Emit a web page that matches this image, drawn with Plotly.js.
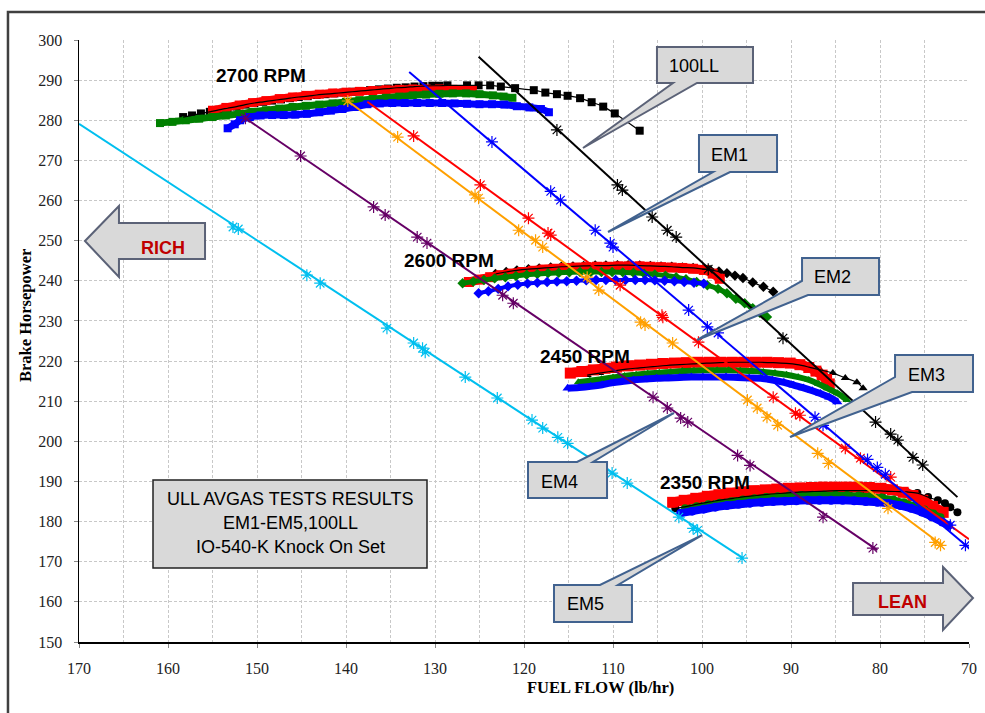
<!DOCTYPE html>
<html>
<head>
<meta charset="utf-8">
<script src="https://cdn.plot.ly/plotly-3.0.1.min.js"></script>
<style>html,body{margin:0;padding:0;background:#fff;}#chart{width:985px;height:713px;}</style>
</head>
<body>
<div id="chart"></div>
<script>
// ---------------- DATA ----------------
// Power curves (fuel flow lb/hr, brake horsepower)
// 2700 RPM (squares)
const ff2700_LL = [158.3,157.3,156.3,155.3,154.3,153.3,152.3,151.3,150.3,149.3,148.3,147.3,146.3,145.3,144.3,143.3,142.3,141.3,140.3,139.3,138.3,137.3,136.3,135.3,134.3,133.3,132.3,131.3,130.3,129.5,128.6,126.4,125.1,123.8,122.6,121.0,118.9,117.6,116.3,115.1,113.7,112.4,111.1,109.8,107.0];
const hp2700_LL = [280.8,281.2,281.7,282.1,282.6,283.0,283.4,283.9,284.3,284.6,284.9,285.2,285.5,285.8,286.0,286.3,286.5,286.7,286.9,287.1,287.3,287.5,287.7,287.9,288.1,288.2,288.4,288.5,288.6,288.6,288.7,288.7,288.7,288.7,288.4,288.0,287.5,286.9,286.5,286.1,285.5,284.5,283.4,281.7,277.4];
const ff2700_R = [155.0,153.5,152,150.5,149,147.5,146,144.5,143,141.5,140,138.5,137,135.5,134,132.5,131,129.5,128,126.5,125.8];
const hp2700_R = [282.5,283.2,283.8,284.4,284.9,285.4,285.8,286.2,286.5,286.8,287.0,287.2,287.4,287.6,287.7,287.8,287.8,287.8,287.7,287.6,287.5];
const ff2700_G = [160.9,159.5,158,156.5,155,153.5,152,150.5,149,147.5,146,144.5,143,141.5,140,138.5,137,135.5,134,132.5,131,129.5,128,126.5,125,123.5,122.3,121.3];
const hp2700_G = [279.3,279.6,280.0,280.4,280.8,281.2,281.6,282.1,282.5,282.9,283.3,283.6,283.9,284.2,284.6,285.0,285.3,285.6,285.9,286.2,286.4,286.6,286.7,286.7,286.5,286.2,285.9,285.6];
const ff2700_B = [153.3,152.5,151.9,150.8,149.6,148.3,147,145.7,144.4,143,141.7,140.4,139,137.6,136.2,134.8,133.4,132,130.6,129.2,127.8,126.4,125,123.6,122.2,120.8,119.4,118.1,117.2];
const hp2700_B = [278.0,279.0,280.0,280.8,281.2,281.3,281.3,281.4,281.6,282.0,282.4,282.8,283.3,284.0,284.2,284.3,284.3,284.3,284.3,284.3,284.2,284.1,284.0,284.0,283.9,283.5,283.2,282.8,282.0];
// 2600 RPM (diamonds)
const ff2600_LL = [123.2,122,120.8,119.5,118.3,117,115.8,114.5,113.3,112,110.8,109.5,108.3,107,105.8,104.6,103.4,102.2,101,99.9,99.1,98.1,97.2,96.3,95.4,94.3,93.1,92.0];
const hp2600_LL = [241.7,242.2,242.6,242.9,243.1,243.3,243.5,243.6,243.7,243.8,243.8,243.9,243.9,243.8,243.7,243.6,243.5,243.3,243.2,242.9,242.7,242.3,241.9,241.3,240.7,239.6,238.5,237.3];
const ff2600_R = [126.2,125,123.8,122.6,121.4,120.2,119,117.8,116.6,115.4,114.2,113,111.8,110.6,109.4,108.2,107,105.8,104.6,103.4,102.2,101,99.8,98.8,98.0];
const hp2600_R = [239.7,240.3,240.9,241.4,241.8,242.2,242.5,242.8,243.0,243.2,243.3,243.4,243.5,243.5,243.6,243.6,243.6,243.5,243.4,243.3,243.2,243.0,242.7,241.8,240.5];
const ff2600_G = [126.9,125.7,124.5,123.3,122.1,120.9,119.7,118.5,117.3,116.1,114.9,113.7,112.5,111.3,110.1,108.9,107.7,106.5,105.3,104.1,102.9,101.8,100.6,99.4,98.2,97.2,96.2,95.2,94.3,93.5,92.7];
const hp2600_G = [239.4,239.8,240.2,240.6,240.9,241.2,241.5,241.7,241.9,242.0,242.1,242.2,242.2,242.2,242.2,242.1,242.0,241.8,241.6,241.3,240.9,240.4,239.7,238.9,238.0,236.9,235.5,234.4,233.2,232.0,231.0];
const ff2600_B = [125.1,124.0,122.9,121.8,120.7,119.6,118.5,117.4,116.3,115.2,114.1,113.0,111.9,110.8,109.7,108.6,107.5,106.4,105.3,104.2,103.1,102.0,100.9,99.8];
const hp2600_B = [236.9,237.4,238.0,238.6,239.0,239.3,239.5,239.7,239.8,239.9,240.0,240.1,240.2,240.2,240.2,240.2,240.2,240.2,240.1,240.0,239.9,239.7,239.5,239.3];
// 2450 RPM (triangles)
const ff2450_LL = [112.9,111.5,110,108.5,107,105.5,104,102.5,101,99.5,98,96.5,95,93.5,92,90.5,89.3,88.0,86.7,85.3,83.9,82.6,81.9];
const hp2450_LL = [216.5,217.0,217.5,218.0,218.3,218.6,218.9,219.1,219.3,219.5,219.6,219.7,219.7,219.7,219.6,219.4,219.1,218.5,217.8,217.0,215.8,214.7,213.2];
const ff2450_R = [114.8,113.5,112.2,110.9,109.6,108.3,107,105.7,104.4,103.1,101.8,100.5,99.2,97.9,96.6,95.3,94,92.7,91.4,90.1,89.0,88.0,87.2,86.5,86.0,85.7];
const hp2450_R = [217.0,217.4,217.8,218.2,218.5,218.8,219.0,219.2,219.4,219.5,219.6,219.7,219.7,219.7,219.7,219.7,219.7,219.7,219.6,219.5,219.1,218.4,217.5,216.5,215.4,214.3];
const ff2450_G = [113.9,112.6,111.3,110,108.7,107.4,106.1,104.8,103.5,102.2,100.9,99.6,98.3,97,95.7,94.4,93.1,91.8,90.5,89.2,88.0,86.9,85.9,84.8,83.7];
const hp2450_G = [214.7,215.1,215.5,215.9,216.3,216.6,216.9,217.1,217.3,217.5,217.6,217.7,217.7,217.7,217.6,217.5,217.3,217.0,216.6,216.0,215.3,214.3,213.2,212.0,210.3];
const ff2450_B = [115.1,113.8,112.5,111.2,110.3,109,107.7,106.4,105.1,103.8,102.5,101.2,99.9,98.6,97.3,96,94.7,93.4,92.1,90.8,89.7,88.6,87.6,86.7,85.7,84.8];
const hp2450_B = [213.2,213.4,213.7,214.1,214.5,214.9,215.3,215.5,215.7,215.8,215.9,216.0,216.0,216.0,216.0,215.9,215.8,215.7,215.3,214.7,214.0,213.3,212.6,211.9,211.0,209.8];
// 2350 RPM (circles)
const ff2350_LL = [103.0,101.7,100.4,99.1,97.8,96.5,95.2,93.9,92.6,91.3,90.0,88.7,87.4,86.1,84.8,83.5,82.2,80.9,79.6,78.3,77.0,75.8,74.6,73.5,72.7,72.1,71.3];
const hp2350_LL = [183.3,183.8,184.4,184.9,185.4,185.8,186.2,186.5,186.8,187.0,187.2,187.4,187.5,187.6,187.7,187.7,187.7,187.7,187.6,187.5,187.4,187.1,186.1,185.3,184.6,183.6,182.3];
const ff2350_R = [103.3,102,100.7,99.4,98.1,96.8,95.5,94.2,92.9,91.6,90.3,89.0,87.7,86.4,85.1,83.8,82.5,81.2,79.9,78.6,77.4,76.3,75.2,74.1,72.9];
const hp2350_R = [184.8,185.3,185.8,186.3,186.7,187.1,187.4,187.7,187.9,188.1,188.3,188.4,188.5,188.6,188.6,188.6,188.6,188.5,188.3,187.9,187.3,186.5,185.3,183.8,182.3];
const ff2350_G = [101.9,100.6,99.3,98.0,96.7,95.4,94.1,92.8,91.5,90.2,88.9,87.6,86.3,85.0,83.7,82.4,81.1,79.8,78.5,77.3,76.1,75.0,74.0,73.2];
const hp2350_G = [183.3,183.8,184.3,184.7,185.1,185.5,185.8,186.1,186.3,186.5,186.6,186.7,186.7,186.7,186.6,186.5,186.3,186.0,185.5,184.8,184.0,183.0,182.0,181.1];
const ff2350_B = [102.4,101.1,99.8,98.5,97.2,95.9,94.6,93.3,92.0,90.7,89.4,88.1,86.8,85.5,84.2,82.9,81.6,80.3,79.0,77.7,76.5,75.3,74.2,73.0,72.3];
const hp2350_B = [182.1,182.6,183.1,183.6,184.0,184.3,184.6,184.8,185.0,185.1,185.2,185.3,185.3,185.3,185.3,185.2,185.0,184.8,184.5,184.0,183.3,182.4,181.2,179.9,179.0];

// Knock onset points and trend lines per fuel
const knockFF_LL  = [116.3,109.5,108.95,105.6,103.9,102.9,99.3,90.9,80.5,78.8,78.0,76.3,75.2];
const knockHP_LL  = [277.6,263.9,262.6,255.9,252.6,250.9,242.9,225.7,204.8,201.8,200.3,196.0,194.1];
const trendFF_LL  = [125.1,71.3];  const trendHP_LL  = [295.8,186.1];
const knockFF_EM1 = [123.6,117.0,115.9,112.0,110.3,110.0,101.5,99.4,98.2,87.3,86.4,81.4,80.3,79.4,72.1,70.4];
const knockHP_EM1 = [274.6,262.3,260.1,252.6,249.4,248.4,232.7,228.5,227.0,206.0,204.0,195.5,193.5,191.8,179.1,174.1];
const trendFF_EM1 = [132.9,70.0]; const trendHP_EM1 = [292.0,173.4];
const knockFF_EM2 = [132.4,124.9,119.5,117.3,117.0,109.2,104.5,104.4,100.4,92.0,89.5,89.0,83.9,82.2,78.8];
const knockHP_EM2 = [276.1,263.9,255.6,251.9,251.4,238.9,231.4,230.9,224.7,211.0,207.0,206.5,198.3,195.8,191.1];
const trendFF_EM2 = [137.6,70.0]; const trendHP_EM2 = [284.6,175.6];
const knockFF_EM3 = [139.8,134.2,125.5,125.1,120.6,118.7,117.9,112.9,111.6,106.9,106.4,103.3,94.9,93.8,92.7,91.5,87.0,85.8,79.1,73.8,73.2];
const knockHP_EM3 = [284.8,275.8,261.4,260.6,252.6,250.1,248.4,240.9,237.7,229.7,229.0,224.5,210.3,208.3,206.0,204.0,197.0,194.5,183.3,174.8,174.1];
const trendFF_EM3 = [139.8,73.0]; const trendHP_EM3 = [284.8,174.1];
const knockFF_EM4 = [151.3,145.1,136.9,135.6,132.0,130.9,122.4,121.2,105.5,103.9,102.4,101.6,96.0,94.6,86.4,80.8];
const knockHP_EM4 = [280.5,271.1,258.4,256.4,250.9,249.4,236.4,234.4,211.0,208.3,205.8,204.8,196.5,194.0,181.1,173.4];
const trendFF_EM4 = [151.3,80.3]; const trendHP_EM4 = [280.5,172.9];
const knockFF_EM5 = [152.7,152.1,144.4,142.9,135.4,132.4,131.4,131.1,126.6,123.0,119.1,117.9,116.2,115.1,110.1,108.4,102.6,101.0,100.5,95.5];
const knockHP_EM5 = [253.4,252.9,241.4,239.4,228.2,224.5,223.2,222.2,216.0,210.8,205.3,203.3,201.0,199.5,192.1,189.6,181.1,178.3,177.8,170.9];
const trendFF_EM5 = [170.0,95.4]; const trendHP_EM5 = [279.1,170.9];

const xTicks = [170,160,150,140,130,120,110,100,90,80,70];
const yTicks = [150,160,170,180,190,200,210,220,230,240,250,260,270,280,290,300];

// ---------------- BUILD ----------------
const traces = [];
function pc(x, y, color, symbol, size, band){
  if (band) traces.push({x:x, y:y, type:'scatter', mode:'lines', hoverinfo:'skip',
    line:{color:color, width:band, shape:'spline'}});
  traces.push({x:x, y:y, type:'scatter', mode:'markers', hoverinfo:'skip',
    marker:{color:color, symbol:symbol, size:size, line:{width:0}}});
}
function trend(x, y){
  traces.push({x:x, y:y, type:'scatter', mode:'lines', hoverinfo:'skip',
    line:{color:'#000', width:1.2, shape:'spline'}});
}
// 2700
pc(ff2700_LL, hp2700_LL, '#000000', 'square', 8, 0);
pc(ff2700_R, hp2700_R, '#ff0000', 'square', 9, 8);
pc(ff2700_G, hp2700_G, '#008000', 'square', 8, 7);
pc(ff2700_B, hp2700_B, '#0000ff', 'square', 8, 7);
trend(ff2700_LL, hp2700_LL);
// 2600
pc(ff2600_LL, hp2600_LL, '#000000', 'diamond', 8, 0);
pc(ff2600_R, hp2600_R, '#ff0000', 'square', 10, 9);
pc(ff2600_G, hp2600_G, '#008000', 'diamond', 8, 5);
pc(ff2600_B, hp2600_B, '#0000ff', 'diamond', 8, 4);
trend(ff2600_LL, hp2600_LL);
// 2450
pc(ff2450_LL, hp2450_LL, '#000000', 'triangle-up', 8, 0);
pc(ff2450_R, hp2450_R, '#ff0000', 'square', 11, 10);
pc(ff2450_G, hp2450_G, '#008000', 'triangle-up', 8, 6);
pc(ff2450_B, hp2450_B, '#0000ff', 'triangle-up', 9, 7);
trend(ff2450_LL, hp2450_LL);
// 2350
pc(ff2350_LL, hp2350_LL, '#000000', 'circle', 8, 0);
pc(ff2350_R, hp2350_R, '#ff0000', 'square', 11, 10);
pc(ff2350_G, hp2350_G, '#008000', 'circle', 8, 6);
pc(ff2350_B, hp2350_B, '#0000ff', 'circle', 9, 8);
trend(ff2350_LL, hp2350_LL);

function knock(tx, ty, kx, ky, color){
  traces.push({x:tx, y:ty, type:'scatter', mode:'lines', hoverinfo:'skip',
    line:{color:color, width:2}});
  traces.push({x:kx, y:ky, type:'scatter', mode:'markers', hoverinfo:'skip',
    marker:{color:color, symbol:'asterisk-open', size:10, line:{color:color, width:1.2}}});
}
knock(trendFF_EM5, trendHP_EM5, knockFF_EM5, knockHP_EM5, '#00bfef');
knock(trendFF_EM4, trendHP_EM4, knockFF_EM4, knockHP_EM4, '#660066');
knock(trendFF_EM3, trendHP_EM3, knockFF_EM3, knockHP_EM3, '#ffa000');
knock(trendFF_EM2, trendHP_EM2, knockFF_EM2, knockHP_EM2, '#ff0000');
knock(trendFF_EM1, trendHP_EM1, knockFF_EM1, knockHP_EM1, '#0000ff');
knock(trendFF_LL, trendHP_LL, knockFF_LL, knockHP_LL, '#000000');

// pixel -> paper helpers for decorations
const PL=79, PR=969, PT=40, PB=642;
const px = p => (p-PL)/(PR-PL);
const py = p => (PB-p)/(PB-PT);
function path(pts, close){
  return pts.map((p,i)=>(i?'L':'M')+px(p[0]).toFixed(4)+','+py(p[1]).toFixed(4)).join(' ')+(close?' Z':'');
}
const GREY='#d9d9d9', EDGE='#41628f', EDGE0='#5b6277';
const shapes = [
  {type:'path', xref:'paper', yref:'paper', path:path([[8,720],[8,12],[990,12]],false), line:{color:'#404040', width:2.5}},
  // RICH / LEAN arrows
  {type:'path', xref:'paper', yref:'paper', path:path([[85,241],[119,206],[119,223],[205,223],[205,259],[119,259],[119,277]],true), fillcolor:GREY, line:{color:EDGE0, width:2}},
  {type:'path', xref:'paper', yref:'paper', path:path([[853,583],[943,583],[943,567],[973,598],[943,630],[943,615],[853,615]],true), fillcolor:GREY, line:{color:EDGE0, width:2}},
  // callouts
  {type:'path', xref:'paper', yref:'paper', path:path([[657,47],[753,47],[753,83],[697,83],[583,148],[673,83],[657,83]],true), fillcolor:GREY, line:{color:EDGE0, width:2}},
  {type:'path', xref:'paper', yref:'paper', path:path([[699,135],[777,135],[777,172],[730,172],[608,232],[713,172],[699,172]],true), fillcolor:GREY, line:{color:EDGE, width:2}},
  {type:'path', xref:'paper', yref:'paper', path:path([[802,258],[879,258],[879,295],[808,295],[697,340],[802,281]],true), fillcolor:GREY, line:{color:EDGE, width:2}},
  {type:'path', xref:'paper', yref:'paper', path:path([[895,355],[973,355],[973,392],[912,392],[790,437],[895,377]],true), fillcolor:GREY, line:{color:EDGE, width:2}},
  {type:'path', xref:'paper', yref:'paper', path:path([[528,462],[577,462],[674,413],[593,462],[607,462],[607,498],[528,498]],true), fillcolor:GREY, line:{color:EDGE, width:2}},
  {type:'path', xref:'paper', yref:'paper', path:path([[554,585],[600,585],[702,535],[618,585],[632,585],[632,622],[554,622]],true), fillcolor:GREY, line:{color:EDGE, width:2}},
  // info box
  {type:'rect', xref:'paper', yref:'paper', x0:px(153), x1:px(427), y0:py(568), y1:py(480), fillcolor:GREY, line:{color:'#222', width:1.5}}
];

const SANS='Liberation Sans, Arial, sans-serif';
const SERIF='Liberation Serif, Times New Roman, serif';
function ann(text, x, y, size, opts){
  return Object.assign({text:text, xref:'paper', yref:'paper', x:px(x), y:py(y), showarrow:false,
    xanchor:'center', yanchor:'middle', font:{family:SANS, size:size, color:'#000'}}, opts||{});
}
const annotations = [
  ann('<b>2700 RPM</b>', 261, 75, 19),
  ann('<b>2600 RPM</b>', 449, 260, 19),
  ann('<b>2450 RPM</b>', 585, 357, 19),
  ann('<b>2350 RPM</b>', 705, 482, 19),
  ann('100LL', 667, 66, 18, {xanchor:'left'}),
  ann('EM1', 709, 155, 18, {xanchor:'left'}),
  ann('EM2', 812, 277, 18, {xanchor:'left'}),
  ann('EM3', 906, 375, 18, {xanchor:'left'}),
  ann('EM4', 539, 482, 18, {xanchor:'left'}),
  ann('EM5', 565, 604, 18, {xanchor:'left'}),
  ann('<b>RICH</b>', 163, 248, 18, {font:{family:SANS, size:18, color:'#c00000'}}),
  ann('<b>LEAN</b>', 902, 602, 18, {font:{family:SANS, size:18, color:'#c00000'}}),
  ann('ULL AVGAS TESTS RESULTS', 290, 499, 18),
  ann('EM1-EM5,100LL', 290, 523, 18),
  ann('IO-540-K Knock On Set', 290, 547, 18),
  ann('<b>FUEL FLOW (lb/hr)</b>', 600, 687, 16.5, {font:{family:SERIF, size:16.5, color:'#000'}}),
  ann('<b>Brake Horsepower</b>', 25, 316, 16.5, {textangle:-90, font:{family:SERIF, size:16.5, color:'#000'}})
];

const layout = {
  width:985, height:713,
  margin:{l:PL, r:985-PR, t:PT, b:713-PB, pad:0},
  paper_bgcolor:'#fff', plot_bgcolor:'#fff',
  showlegend:false,
  xaxis:{range:[170,70], tickvals:xTicks, ticktext:xTicks.map(String), ticks:'outside', ticklen:4, tickcolor:'#888',
    showgrid:true, gridcolor:'#c8c8c8', griddash:'3px,2px', gridwidth:1,
    minor:{dtick:5, tick0:70, showgrid:true, gridcolor:'#c8c8c8', griddash:'3px,2px', ticks:''},
    showline:true, linecolor:'#000', linewidth:1.5, zeroline:false, ticklabelstandoff:7,
    tickfont:{family:SERIF, size:16, color:'#222'}},
  yaxis:{range:[150,300], tickvals:yTicks, ticktext:yTicks.map(String), ticks:'outside', ticklen:4, tickcolor:'#888',
    showgrid:true, gridcolor:'#c8c8c8', griddash:'3px,2px', gridwidth:1,
    showline:true, linecolor:'#000', linewidth:1.5, zeroline:false, ticklabelstandoff:8,
    tickfont:{family:SERIF, size:16, color:'#222'}},
  shapes:shapes,
  annotations:annotations
};
Plotly.newPlot('chart', traces, layout, {staticPlot:true, displayModeBar:false});
</script>
</body>
</html>
